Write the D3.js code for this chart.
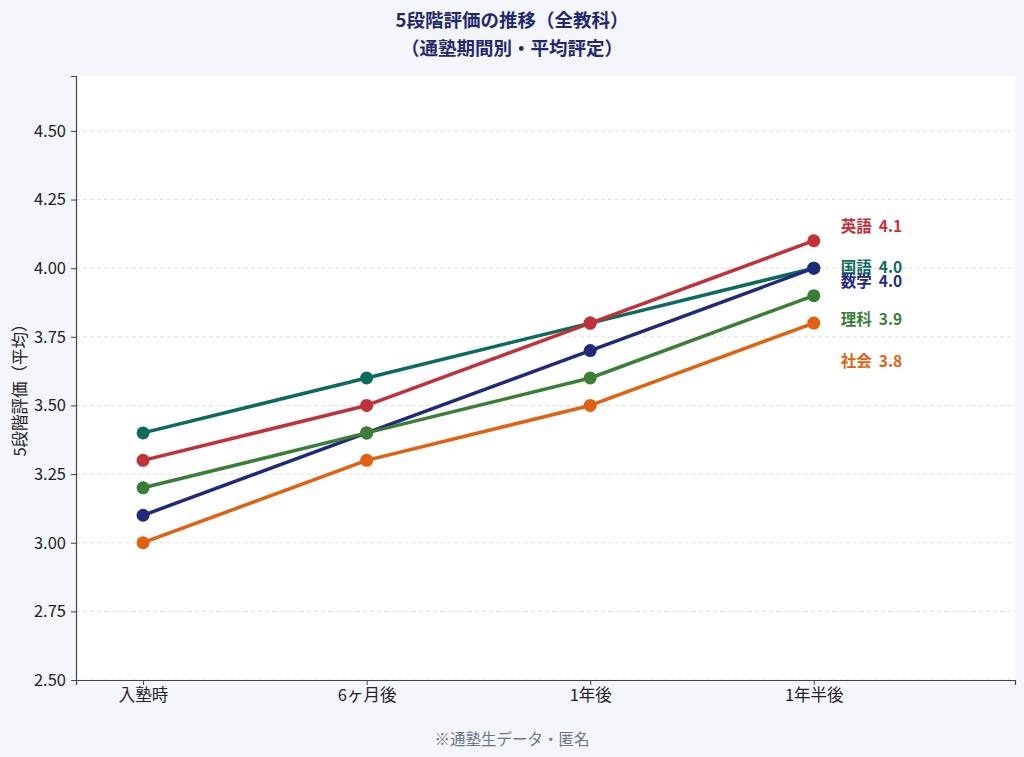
<!DOCTYPE html>
<html><head><meta charset="utf-8">
<script src="https://cdn.jsdelivr.net/npm/d3@7"></script>
<style>
html,body{margin:0;padding:0;background:#f4f6fc;}
svg{display:block;font-family:"Noto Sans CJK JP","Noto Sans",sans-serif;}
</style></head><body>
<svg id="c" width="1024" height="757"></svg>
<script>
const categories = ["入塾時","6ヶ月後","1年後","1年半後"];
const subjects = ["英語","国語","数学","理科","社会"];
const eigo   = [3.3, 3.5, 3.8, 4.1];
const kokugo = [3.4, 3.6, 3.8, 4.0];
const sugaku = [3.1, 3.4, 3.7, 4.0];
const rika   = [3.2, 3.4, 3.6, 3.9];
const shakai = [3.0, 3.3, 3.5, 3.8];
const yTicks = [2.50, 2.75, 3.00, 3.25, 3.50, 3.75, 4.00, 4.25, 4.50];
const colors = ["#c3303a","#0c6b5c","#1f2a7c","#3b7f36","#e2600f"];
const labelShift = [-14, -1, 13, 24, 38];
const seriesValues = [eigo, kokugo, sugaku, rika, shakai];
const drawOrder = [1, 0, 2, 3, 4];

const svg = d3.select("#c");
const L = 76, R = 1015, T = 76, B = 680;
svg.append("rect").attr("x",L).attr("y",T).attr("width",R-L).attr("height",B-T).attr("fill","#ffffff");

const x = d3.scaleLinear().domain([-0.3, 3.9]).range([L, R]);
const y = d3.scaleLinear().domain([2.5, 4.7]).range([B, T]);

// grid
svg.append("g").selectAll("line").data(yTicks).join("line")
  .attr("x1",L).attr("x2",R).attr("y1",d=>y(d)).attr("y2",d=>y(d))
  .attr("stroke","#e0e0e0").attr("stroke-width",1).attr("stroke-dasharray","4,3");

// axes
const ya = svg.append("g").attr("transform",`translate(${L},0)`)
  .call(d3.axisLeft(y).tickValues(yTicks).tickFormat(d3.format(".2f")).tickSize(5).tickPadding(5));
ya.select(".domain").attr("stroke","#444").attr("stroke-width",1.2);
ya.selectAll(".tick line").attr("stroke","#444");
ya.selectAll("text").attr("font-size",16.5).attr("fill","#222").attr("font-family","'Noto Sans CJK JP',sans-serif");

const xa = svg.append("g").attr("transform",`translate(0,${B})`)
  .call(d3.axisBottom(x).tickValues(d3.range(categories.length)).tickFormat(i=>categories[i]).tickSize(5).tickPadding(4));
xa.select(".domain").attr("stroke","#444").attr("stroke-width",1.2);
xa.selectAll(".tick line").attr("stroke","#444");
xa.selectAll("text").attr("font-size",16.5).attr("fill","#222").attr("font-family","'Noto Sans CJK JP',sans-serif");

// lines
const line = d3.line().x((d,i)=>x(i)).y(d=>y(d));
drawOrder.forEach(k=>{
  const g = svg.append("g");
  g.append("path").attr("d",line(seriesValues[k])).attr("fill","none")
    .attr("stroke",colors[k]).attr("stroke-width",3.5).attr("stroke-linejoin","round");
  g.selectAll("circle").data(seriesValues[k]).join("circle")
    .attr("cx",(d,i)=>x(i)).attr("cy",d=>y(d)).attr("r",6.5).attr("fill",colors[k]);
});

// end labels
subjects.forEach((s,k)=>{
  const v = seriesValues[k][seriesValues[k].length-1];
  svg.append("text").attr("x",x(3)+27).attr("y",y(v)+labelShift[k]).attr("dy","0.35em")
    .attr("font-size",15.5).attr("font-weight","bold").attr("fill",colors[k])
    .attr("xml:space","preserve").text(s + "  " + v.toFixed(1));
});

// title
svg.append("text").attr("x",512).attr("y",27).attr("text-anchor","middle")
  .attr("font-size",18.5).attr("font-weight","bold").attr("fill","#1f2a6e").text("5段階評価の推移（全教科）");
svg.append("text").attr("x",512).attr("y",55).attr("text-anchor","middle")
  .attr("font-size",18.5).attr("font-weight","bold").attr("fill","#1f2a6e").text("（通塾期間別・平均評定）");

// y label
svg.append("text").attr("transform",`translate(20,${(T+B)/2+8}) rotate(-90)`).attr("text-anchor","middle")
  .attr("dy","0.35em").attr("font-size",16.5).attr("fill","#222").text("5段階評価（平均）");

// footnote
svg.append("text").attr("x",512).attr("y",745).attr("text-anchor","middle")
  .attr("font-size",15.5).attr("fill","#6b7585").text("※通塾生データ・匿名");
</script>
</body></html>
